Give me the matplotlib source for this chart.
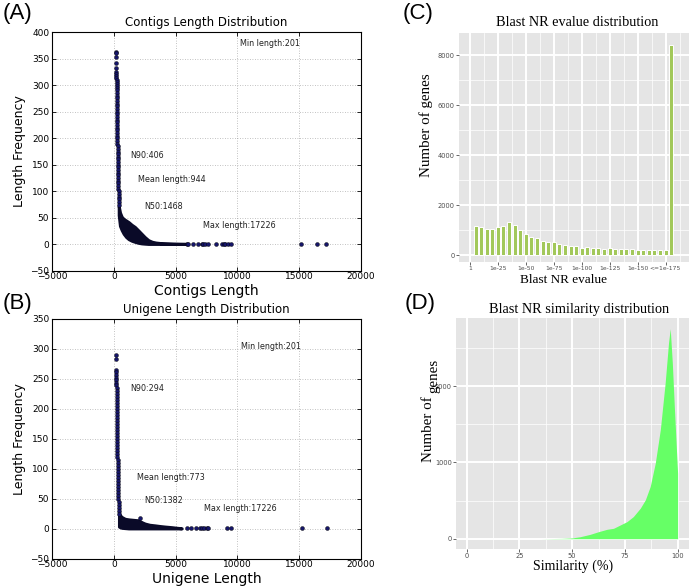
import matplotlib
matplotlib.use("Agg")
import matplotlib.pyplot as plt
from matplotlib.ticker import MultipleLocator, FixedLocator

# ---------------- Panel A: contigs ----------------
contig_spike_len = [201, 203, 205, 207, 209, 211, 213, 215, 218, 221, 224, 227, 230, 233, 236, 239,
                    242, 245, 248, 251, 254, 257, 260, 263, 266, 269, 272, 275, 278, 281, 284, 287,
                    290, 294, 298, 302, 306, 310, 314, 318, 322, 326, 330, 335, 340, 345, 350, 355,
                    360, 366, 372, 378, 384, 390, 396, 402, 408, 415]
contig_spike_freq = [363, 360, 353, 341, 332, 325, 321, 318, 314, 310, 306, 302, 298, 294, 290, 285,
                     280, 275, 270, 265, 260, 255, 250, 245, 240, 235, 230, 225, 220, 215, 210, 205,
                     200, 195, 190, 185, 180, 175, 170, 165, 160, 155, 150, 145, 140, 135, 130, 125,
                     120, 115, 110, 105, 100, 95, 90, 85, 80, 75]
contig_band_len = [400, 500, 640, 800, 1000, 1200, 1450, 1700, 2000, 2250, 2500, 2800, 3100, 3400,
                   3800, 4300, 4800, 5300, 5900]
contig_band_high = [72, 60, 52, 48, 45, 42, 37, 33, 26, 20, 14, 8, 5, 3.5, 2.5, 2, 1.5, 1.2, 1]
contig_band_low = [55, 35, 27, 20, 14, 10, 7, 5, 3, 2, 1.5, 1, 1, 1, 1, 1, 1, 1, 1]
contig_tail_len = [5900, 6030, 6430, 6840, 7110, 7240, 7400, 7620, 8270, 8730, 8900, 9000, 9240,
                   9460, 15120, 16460, 17170]
contig_tail_freq = [1, 1, 1, 1, 1, 1, 1, 1, 1, 1, 1, 1, 1, 1, 1, 1, 1]
contig_stats = ["Min length:201", "N90:406", "Mean length:944", "N50:1468", "Max length:17226"]

# ---------------- Panel B: unigenes ----------------
unigene_spike_len = [201, 202, 204, 206, 208, 210, 212, 214, 216, 219, 222, 225, 228, 231, 234, 237,
                     240, 243, 246, 249, 252, 255, 258, 261, 264, 267, 270, 274, 278, 282, 286, 290,
                     295, 300, 305, 310, 315, 320, 326, 332, 338, 344, 350, 357, 364, 371, 378, 386,
                     394, 402, 410, 420]
unigene_spike_freq = [290, 283, 265, 261, 257, 252, 248, 244, 240, 235, 230, 225, 220, 215, 210, 205,
                      200, 195, 190, 185, 180, 175, 170, 165, 160, 155, 150, 145, 140, 135, 130, 125,
                      120, 115, 110, 105, 100, 95, 90, 85, 80, 75, 70, 65, 60, 55, 50, 45, 40, 35,
                      30, 25]
unigene_band_len = [420, 500, 640, 906, 1200, 1450, 1700, 1980, 2300, 2520, 2900, 3330, 3700, 4140,
                    4680, 5100, 5490]
unigene_band_high = [26, 23, 20, 17, 16, 15.5, 15, 14.5, 11, 9, 7, 6, 5, 4, 3, 2, 1.2]
unigene_band_low = [4, 3, 2, 1.5, 1, 1, 1, 1, 1, 1, 1, 1, 1, 1, 1, 1, 1]
unigene_tail_len = [2120, 5900, 6250, 6620, 6980, 7100, 7320, 7500, 7640, 9160, 9450, 15200, 17226]
unigene_tail_freq = [19, 1, 1, 1, 1, 1, 1, 1, 1, 1, 1, 1, 1]
unigene_stats = ["Min length:201", "N90:294", "Mean length:773", "N50:1382", "Max length:17226"]

# ---------------- Panel C: evalue distribution ----------------
evalue_bins = [5, 10, 15, 20, 25, 30, 35, 40, 45, 50, 55, 60, 65, 70, 75, 80, 85, 90, 95, 100,
               105, 110, 115, 120, 125, 130, 135, 140, 145, 150, 155, 160, 165, 170, 175, 180]
evalue_counts = [1160, 1110, 1040, 1055, 1110, 1160, 1320, 1210, 1000, 830, 735, 665, 575, 535,
                 505, 440, 400, 360, 375, 285, 320, 295, 280, 255, 265, 240, 252, 240, 228, 215,
                 215, 213, 213, 213, 213, 8400]
evalue_tick_pos = [0, 25, 50, 75, 100, 125, 150, 175]
evalue_tick_labels = ["1", "1e-25", "1e-50", "1e-75", "1e-100", "1e-125", "1e-150", "<=1e-175"]

# ---------------- Panel D: similarity distribution ----------------
similarity = [35, 40, 45, 50, 53.8, 58.5, 62.5, 66.5, 69.6, 72.8, 76, 79, 82.3, 84.7, 87, 89.4,
              91.8, 94.1, 95.7, 96.5, 97.5, 98.5, 99.3, 100, 100]
similarity_counts = [0, 2, 4, 10, 26, 57, 92, 123, 136, 180, 224, 290, 400, 510, 684, 990,
                     1430, 2044, 2570, 2754, 2300, 1700, 1250, 860, 0]

W, H = 693, 587
fig = plt.figure(figsize=(W / 100, H / 100), dpi=100)


def box(l, t, r, b):
    return [l / W, 1 - b / H, (r - l) / W, (b - t) / H]


def ftext(x, y, s, **kw):
    kw.setdefault("ha", "center")
    kw.setdefault("va", "center")
    fig.text(x / W, 1 - y / H, s, **kw)


SANS = "DejaVu Sans"
SERIF = "Liberation Serif"


def length_panel(ax, spike_len, spike_freq, band_len, band_lo, band_hi, tail_len, tail_freq,
                 ylim, title, xlabel, stats, stat_xy):
    ax.set_xlim(-5000, 20000)
    ax.set_ylim(*ylim)
    ax.xaxis.set_major_locator(MultipleLocator(5000))
    ax.yaxis.set_major_locator(MultipleLocator(50))
    ax.grid(True, color="#777777", linestyle=(0, (1, 2)), linewidth=0.6, alpha=0.6)
    ax.set_axisbelow(True)
    band_col = "#0a0a28"
    ax.fill_between(band_len, band_lo, band_hi, color=band_col, edgecolor=band_col,
                    linewidth=2.2, zorder=2)
    ax.scatter(spike_len, spike_freq, s=8, c="#16166a", edgecolors="black", linewidths=0.3, zorder=3)
    ax.scatter(tail_len, tail_freq, s=8, c="#16166a", edgecolors="black", linewidths=0.3, zorder=3)
    ax.tick_params(direction="in", length=3, width=0.6, labelsize=6.5, top=True, right=True,
                   pad=2)
    ax.tick_params(axis="x", pad=1)
    for sp in ax.spines.values():
        sp.set_linewidth(0.8)
    ax.set_title(title, fontsize=8.5, family=SANS, pad=4)
    ax.set_xlabel(xlabel, fontsize=10, family=SANS, labelpad=2)
    ax.set_ylabel("Length Frequency", fontsize=9, family=SANS, labelpad=3)
    for s, (x, y) in zip(stats, stat_xy):
        ax.text(x, y, s, fontsize=5.8, family=SANS, va="center", ha="left", color="#222222")


axA = fig.add_axes(box(52, 32, 361, 271))
length_panel(axA, contig_spike_len, contig_spike_freq, contig_band_len, contig_band_low,
             contig_band_high, contig_tail_len, contig_tail_freq, (-50, 400),
             "Contigs Length Distribution", "Contigs Length", contig_stats,
             [(10200, 378), (1310, 168), (1930, 123), (2440, 71), (7240, 35)])

axB = fig.add_axes(box(52, 319, 361, 559))
length_panel(axB, unigene_spike_len, unigene_spike_freq, unigene_band_len, unigene_band_low,
             unigene_band_high, unigene_tail_len, unigene_tail_freq, (-50, 350),
             "Unigene Length Distribution", "Unigene Length", unigene_stats,
             [(10270, 304), (1310, 234), (1850, 85), (2440, 47), (7300, 34)])


def gg_panel(ax):
    ax.set_facecolor("#E5E5E5")
    for sp in ax.spines.values():
        sp.set_visible(False)
    ax.grid(True, which="major", color="white", linewidth=1.4)
    ax.grid(True, which="minor", color="white", linewidth=0.5)
    ax.set_axisbelow(True)
    ax.tick_params(which="major", length=2, width=0.6, color="#4d4d4d", labelsize=4.8,
                   labelcolor="#4d4d4d", pad=1)
    ax.tick_params(which="minor", length=0)


# Panel C
axC = fig.add_axes(box(459, 33, 689, 262))
gg_panel(axC)
axC.bar(evalue_bins, evalue_counts, width=3.6, color="#A2C85A", edgecolor="white",
        linewidth=0.7, zorder=2)
axC.set_xlim(-9.8, 196)
axC.set_ylim(-280, 8880)
axC.xaxis.set_major_locator(FixedLocator(evalue_tick_pos))
axC.set_xticklabels(evalue_tick_labels, fontsize=4.3)
axC.xaxis.set_minor_locator(FixedLocator([p + 12.5 for p in evalue_tick_pos]))
axC.yaxis.set_major_locator(MultipleLocator(2000))
axC.yaxis.set_minor_locator(MultipleLocator(1000))

# Panel D
axD = fig.add_axes(box(456, 318, 689, 549))
gg_panel(axD)
axD.fill_between(similarity, 0, similarity_counts, color="#66FF66", linewidth=0, zorder=2)
axD.set_xlim(-5.1, 105.4)
axD.set_ylim(-135, 2893)
axD.xaxis.set_major_locator(MultipleLocator(25))
axD.xaxis.set_minor_locator(MultipleLocator(12.5))
axD.yaxis.set_major_locator(MultipleLocator(1000))
axD.yaxis.set_minor_locator(MultipleLocator(500))

# Titles and labels for C/D
ftext(577, 23, "Blast NR evalue distribution", fontsize=10.3, family=SERIF)
ftext(430, 125, "Number of genes", fontsize=10.8, family=SERIF, rotation=90,
      rotation_mode="anchor", va="baseline")
ftext(563, 280, "Blast NR evalue", fontsize=9.5, family=SERIF)
ftext(579, 310, "Blast NR similarity distribution", fontsize=10.3, family=SERIF)
# in the reference, "genes" is drawn slightly offset from "Number of"
ftext(432, 429, "Number of", fontsize=10.8, family=SERIF, rotation=90,
      rotation_mode="anchor", va="baseline")
ftext(437, 376, "genes", fontsize=10.8, family=SERIF, rotation=90,
      rotation_mode="anchor", va="baseline")
ftext(573, 566, "Similarity (%)", fontsize=10, family=SERIF)

# Panel letters
for s, (x, y) in zip(["(A)", "(B)", "(C)", "(D)"], [(17, 14), (17, 303), (418, 13), (420, 304)]):
    ftext(x, y, s, fontsize=16, family="Liberation Sans")

fig.savefig("out.png", dpi=100)
